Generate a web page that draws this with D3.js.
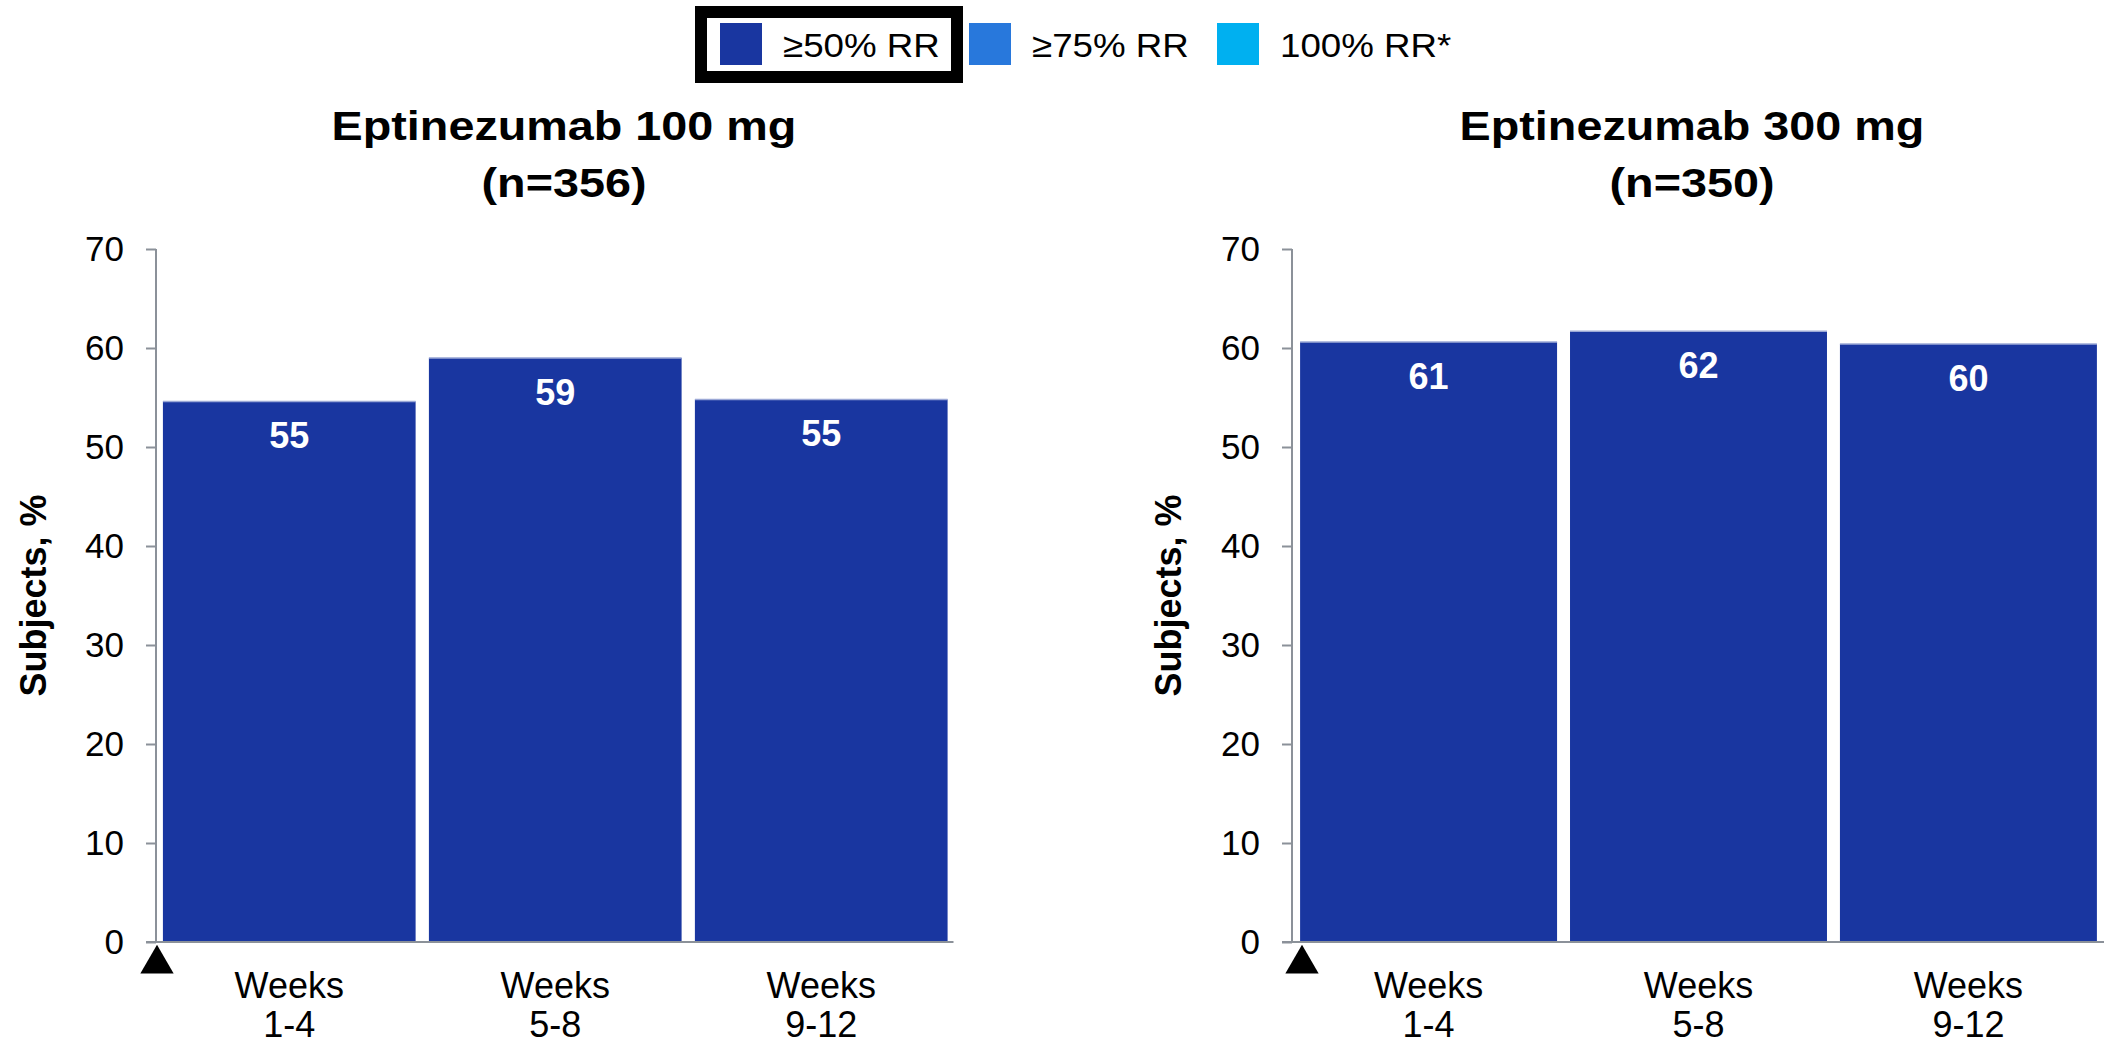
<!DOCTYPE html>
<html>
<head>
<meta charset="utf-8">
<script src="https://cdn.jsdelivr.net/npm/d3@7"></script>
<style>
  html, body { margin: 0; padding: 0; background: #fff; }
  svg { display: block; font-family: "Liberation Sans", Arial, sans-serif; }
</style>
</head>
<body>
<svg width="2108" height="1046"></svg>
<script>
// data
const weeks = ["1-4", "5-8", "9-12"];
const rr50_100mg = [54.6, 59.0, 54.8];
const rr50_300mg = [60.6, 61.7, 60.4];
const titles = ["Eptinezumab 100 mg", "Eptinezumab 300 mg"];
const nLabels = ["(n=356)", "(n=350)"];
const yTicks = [0, 10, 20, 30, 40, 50, 60, 70];
const legendLabels = ["≥50% RR", "≥75% RR", "100% RR*"];
const legendColors = ["#1936a0", "#2878dc", "#00b0f0"];

const svg = d3.select("svg");
const axisColor = "#8b9199";

// panel layout (pixels)
const panels = [
  { values: rr50_100mg, x0: 156, x1: 954.5, po: 0.026, pi: 0.05, titleX: 564, labelX: 33, triX: 157 },
  { values: rr50_300mg, x0: 1292, x1: 2105, po: 0.03, pi: 0.048, titleX: 1692, labelX: 1168, triX: 1302 }
];

const y = d3.scaleLinear().domain([0, 70]).range([942, 249]);

panels.forEach((p, i) => {
  const g = svg.append("g");
  const x = d3.scaleBand().domain(weeks).range([p.x0, p.x1])
      .paddingInner(p.pi).paddingOuter(p.po);

  // bars
  g.selectAll("rect.bar").data(p.values).join("rect")
      .attr("class", "bar")
      .attr("x", (d, j) => x(weeks[j]))
      .attr("width", x.bandwidth())
      .attr("y", d => y(d))
      .attr("height", d => y(0) - y(d))
      .attr("fill", legendColors[0]);
  // light top edge
  g.selectAll("line.edge").data(p.values).join("line")
      .attr("class", "edge")
      .attr("x1", (d, j) => x(weeks[j]))
      .attr("x2", (d, j) => x(weeks[j]) + x.bandwidth())
      .attr("y1", d => y(d)).attr("y2", d => y(d))
      .attr("stroke", "#9ba8d6").attr("stroke-width", 1.5);

  // value labels
  g.selectAll("text.val").data(p.values).join("text")
      .attr("class", "val")
      .attr("x", (d, j) => x(weeks[j]) + x.bandwidth() / 2)
      .attr("y", d => y(d) + 47)
      .attr("text-anchor", "middle")
      .attr("fill", "#fff")
      .attr("font-weight", "bold")
      .attr("font-size", 36)
      .text(d => Math.round(d));

  // y axis
  const ax = g.append("g").attr("transform", `translate(${p.x0},0)`)
      .call(d3.axisLeft(y).tickValues(yTicks).tickSize(10).tickPadding(22).tickFormat(d3.format("d")));
  ax.select(".domain").attr("stroke", axisColor).attr("stroke-width", 2).attr("d", `M0,${y(70)}V${y(0)}`);
  ax.selectAll(".tick line").attr("stroke", axisColor).attr("stroke-width", 2);
  ax.selectAll(".tick text").attr("fill", "#000").attr("font-size", 35)
      .attr("font-family", "'Liberation Sans', Arial, sans-serif");

  // baseline
  g.append("line")
      .attr("x1", p.x0 - 10).attr("x2", p.x1 - 1)
      .attr("y1", y(0)).attr("y2", y(0))
      .attr("stroke", axisColor).attr("stroke-width", 2);

  // x labels
  const xl = g.selectAll("text.cat").data(weeks).join("text")
      .attr("class", "cat")
      .attr("text-anchor", "middle")
      .attr("font-size", 36)
      .attr("fill", "#000");
  xl.append("tspan").attr("x", d => x(d) + x.bandwidth() / 2).attr("y", 998).text("Weeks");
  xl.append("tspan").attr("x", d => x(d) + x.bandwidth() / 2).attr("y", 1037).text(d => d);

  // start marker
  g.append("path")
      .attr("d", d3.symbol().type(d3.symbolTriangle).size(480))
      .attr("transform", `translate(${p.triX},964)`)
      .attr("fill", "#000");

  // title
  const t = g.append("text")
      .attr("text-anchor", "middle")
      .attr("font-weight", "bold")
      .attr("font-size", 41)
      .attr("transform", `translate(${p.titleX},0) scale(1.14,1)`);
  t.append("tspan").attr("x", 0).attr("y", 140).text(titles[i]);
  t.append("tspan").attr("x", 0).attr("y", 197).text(nLabels[i]);

  // y label
  g.append("text")
      .attr("transform", `translate(${p.labelX + 13},${(y(0) + y(70)) / 2}) rotate(-90)`)
      .attr("text-anchor", "middle")
      .attr("font-weight", "bold")
      .attr("font-size", 36)
      .text("Subjects, %");
});

// legend
const lg = svg.append("g");
lg.append("rect")
    .attr("x", 701).attr("y", 12).attr("width", 256).attr("height", 65)
    .attr("fill", "#fff").attr("stroke", "#000").attr("stroke-width", 12);
const legendX = [720, 969, 1217];
legendLabels.forEach((lab, i) => {
  lg.append("rect")
      .attr("x", legendX[i]).attr("y", 23).attr("width", 42).attr("height", 42)
      .attr("fill", legendColors[i]);
  lg.append("text")
      .attr("x", legendX[i] + 63).attr("y", 57)
      .attr("font-size", 34)
      .attr("transform", `translate(${legendX[i] + 63},0) scale(1.08,1) translate(${-(legendX[i] + 63)},0)`)
      .text(lab);
});
</script>
</body>
</html>
